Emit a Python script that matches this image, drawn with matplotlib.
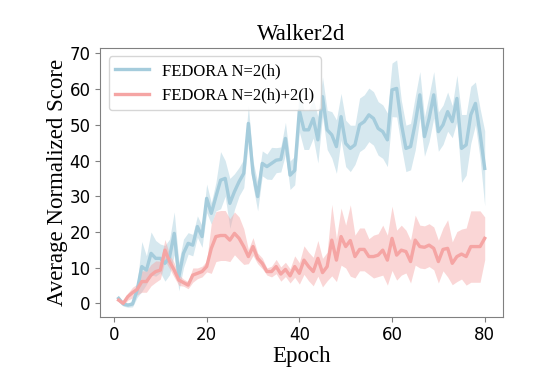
import numpy as np
import matplotlib.pyplot as plt

epochs = np.arange(1, 81)

# FEDORA N=2(h)  -- mean / spread
blue_mean = [1.4, -0.2, -0.5, -0.2, 3.7, 10.3, 9.3, 14.0, 12.6, 12.6,
             11.2, 13.0, 19.6, 7.5, 14.0, 16.8, 16.3, 21.5, 18.7, 29.4,
             25.2, 29.9, 34.5, 35.0, 28.0, 31.3, 34.1, 36.4, 50.4, 36.4,
             29.9, 39.2, 38.3, 39.2, 40.1, 40.3, 46.2, 35.9, 37.2, 54.0,
             48.6, 48.6, 51.8, 45.8, 57.9, 48.6, 47.2, 43.9, 52.3, 44.8,
             43.4, 44.4, 50.0, 50.9, 52.8, 51.8, 49.0, 48.1, 45.8, 59.8,
             60.2, 50.4, 43.4, 43.9, 50.4, 58.4, 46.7, 51.8, 58.4, 48.1,
             50.0, 53.7, 50.9, 57.4, 43.4, 44.4, 52.8, 56.0, 47.6, 37.8]
blue_std = [0.6, 0.6, 0.6, 0.8, 2.0, 7.0, 4.0, 6.0, 5.0, 4.0,
            5.0, 5.0, 6.0, 4.0, 4.0, 3.0, 3.0, 3.0, 3.0, 4.0,
            3.0, 4.0, 8.0, 5.0, 7.0, 5.0, 4.0, 4.0, 5.0, 3.5,
            4.0, 3.5, 3.5, 4.5, 3.5, 3.5, 4.5, 4.0, 4.0, 6.0,
            5.5, 5.5, 5.5, 6.5, 5.5, 5.5, 6.5, 7.5, 6.5, 6.5,
            6.5, 5.5, 7.5, 7.5, 7.5, 7.5, 7.5, 7.5, 7.5, 7.5,
            8.0, 6.5, 6.5, 6.5, 7.5, 6.5, 5.5, 6.5, 6.5, 5.5,
            5.5, 5.5, 4.5, 6.5, 9.5, 8.5, 8.0, 6.0, 7.0, 10.5]

# FEDORA N=2(h)+2(l)
red_mean = [0.9, 0.0, 1.9, 3.0, 3.9, 6.1, 6.1, 7.9, 8.9, 9.3,
            14.9, 11.7, 9.3, 6.5, 5.8, 5.1, 7.9, 8.4, 8.9, 10.3,
            15.4, 18.7, 19.0, 19.0, 17.7, 19.6, 18.2, 15.9, 13.1, 15.9,
            12.6, 11.2, 8.9, 8.9, 10.3, 8.2, 9.5, 7.7, 10.3, 8.4,
            12.1, 10.3, 8.9, 12.6, 8.6, 10.3, 17.7, 12.1, 18.7, 15.9,
            17.6, 13.1, 15.1, 15.1, 13.1, 13.1, 13.5, 14.9, 12.1, 18.2,
            13.5, 14.9, 14.5, 11.7, 17.7, 15.9, 15.7, 16.3, 15.4, 11.7,
            15.1, 15.4, 11.2, 13.1, 13.8, 13.1, 15.9, 15.9, 15.9, 18.2]
red_std = [0.6, 0.6, 1.0, 1.5, 1.5, 3.0, 3.0, 3.0, 3.0, 2.5,
           3.0, 2.0, 2.0, 1.5, 1.0, 1.0, 2.0, 1.5, 1.5, 1.5,
           7.0, 7.0, 7.0, 7.0, 6.0, 6.0, 6.0, 5.0, 2.0, 2.5,
           1.5, 1.5, 1.0, 1.5, 2.0, 2.0, 2.0, 2.0, 3.0, 3.0,
           4.0, 4.0, 4.0, 5.0, 4.0, 4.0, 10.0, 6.0, 8.0, 6.0,
           10.0, 6.0, 6.0, 6.0, 5.0, 6.0, 6.0, 7.0, 7.0, 9.0,
           7.0, 7.0, 6.0, 6.0, 7.0, 6.0, 6.0, 6.0, 6.0, 6.0,
           6.0, 8.0, 6.0, 7.0, 7.0, 8.0, 10.0, 10.0, 10.0, 6.0]

labels = ["FEDORA N=2(h)", "FEDORA N=2(h)+2(l)"]
colors = ["#a5ccdc", "#f5a5a4"]

fig = plt.figure(figsize=(5.53, 3.91), dpi=100)
ax = fig.add_axes([0.1814, 0.19, 0.7282, 0.687])

for mean, std, lab, col in zip([blue_mean, red_mean], [blue_std, red_std], labels, colors):
    m = np.array(mean)
    s = np.array(std)
    ax.plot(epochs, m, color=col, lw=2.4, label=lab)
    ax.fill_between(epochs, m - s, m + s, color=col, alpha=0.45, lw=0)

ax.set_ylim(-3.75, 71.5)
ax.set_yticks(range(0, 71, 10))
ax.set_xticks(range(0, 81, 20))

serif = ["Liberation Serif", "DejaVu Serif"]
ax.set_title("Walker2d", family=serif, fontsize=16.5)
ax.set_xlabel("Epoch", family=serif, fontsize=16.5, labelpad=1)
ax.set_ylabel("Average Normalized Score", family=serif, fontsize=16.5, labelpad=1)
ax.tick_params(labelsize=12, color="#808080")
for sp in ax.spines.values():
    sp.set_color("#808080")

ax.legend(loc="upper left", prop={"family": serif, "size": 12})

fig.savefig("out.png", dpi=100)
